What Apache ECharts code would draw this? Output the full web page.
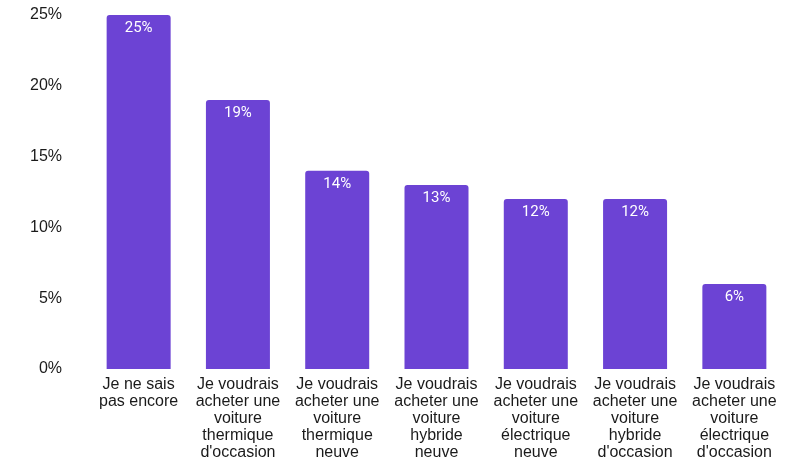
<!DOCTYPE html>
<html><head><meta charset="utf-8">
<script src="https://cdn.jsdelivr.net/npm/echarts@6/dist/echarts.min.js"></script>
<style>html,body{margin:0;padding:0;background:#fff}#c{width:785px;height:467px}</style>
</head><body><div id="c"></div>
<script>
const categories = [
  "Je ne sais\npas encore",
  "Je voudrais\nacheter une\nvoiture\nthermique\nd'occasion",
  "Je voudrais\nacheter une\nvoiture\nthermique\nneuve",
  "Je voudrais\nacheter une\nvoiture\nhybride\nneuve",
  "Je voudrais\nacheter une\nvoiture\nélectrique\nneuve",
  "Je voudrais\nacheter une\nvoiture\nhybride\nd'occasion",
  "Je voudrais\nacheter une\nvoiture\nélectrique\nd'occasion"
];
const values = [25, 19, 14, 13, 12, 12, 6];
const yTicks = [0, 5, 10, 15, 20, 25];

const chart = echarts.init(document.getElementById('c'), null, {renderer: 'canvas'});
chart.setOption({
  animation: false,
  grid: {left: 89, right: 1, top: 15, bottom: 98, containLabel: false},
  xAxis: {
    type: 'category', data: categories,
    axisLine: {show: false}, axisTick: {show: false},
    axisLabel: {interval: 0, margin: 7, color: '#1a1a1a', fontFamily: 'Liberation Sans', fontSize: 16, lineHeight: 17}
  },
  yAxis: {
    type: 'value', min: yTicks[0], max: yTicks[yTicks.length - 1], interval: 5,
    splitLine: {show: false}, axisLine: {show: false}, axisTick: {show: false},
    axisLabel: {margin: 27, color: '#1a1a1a', fontFamily: 'Liberation Sans', fontSize: 16, formatter: v => v + '%'}
  },
  series: [{
    type: 'bar', data: values, barWidth: 64,
    itemStyle: {color: '#6C43D4', borderRadius: [3, 3, 0, 0]},
    label: {show: true, position: 'insideTop', distance: 6, color: '#fff', fontFamily: 'Roboto', fontSize: 15, formatter: p => p.value + '%'}
  }]
});
</script></body></html>
